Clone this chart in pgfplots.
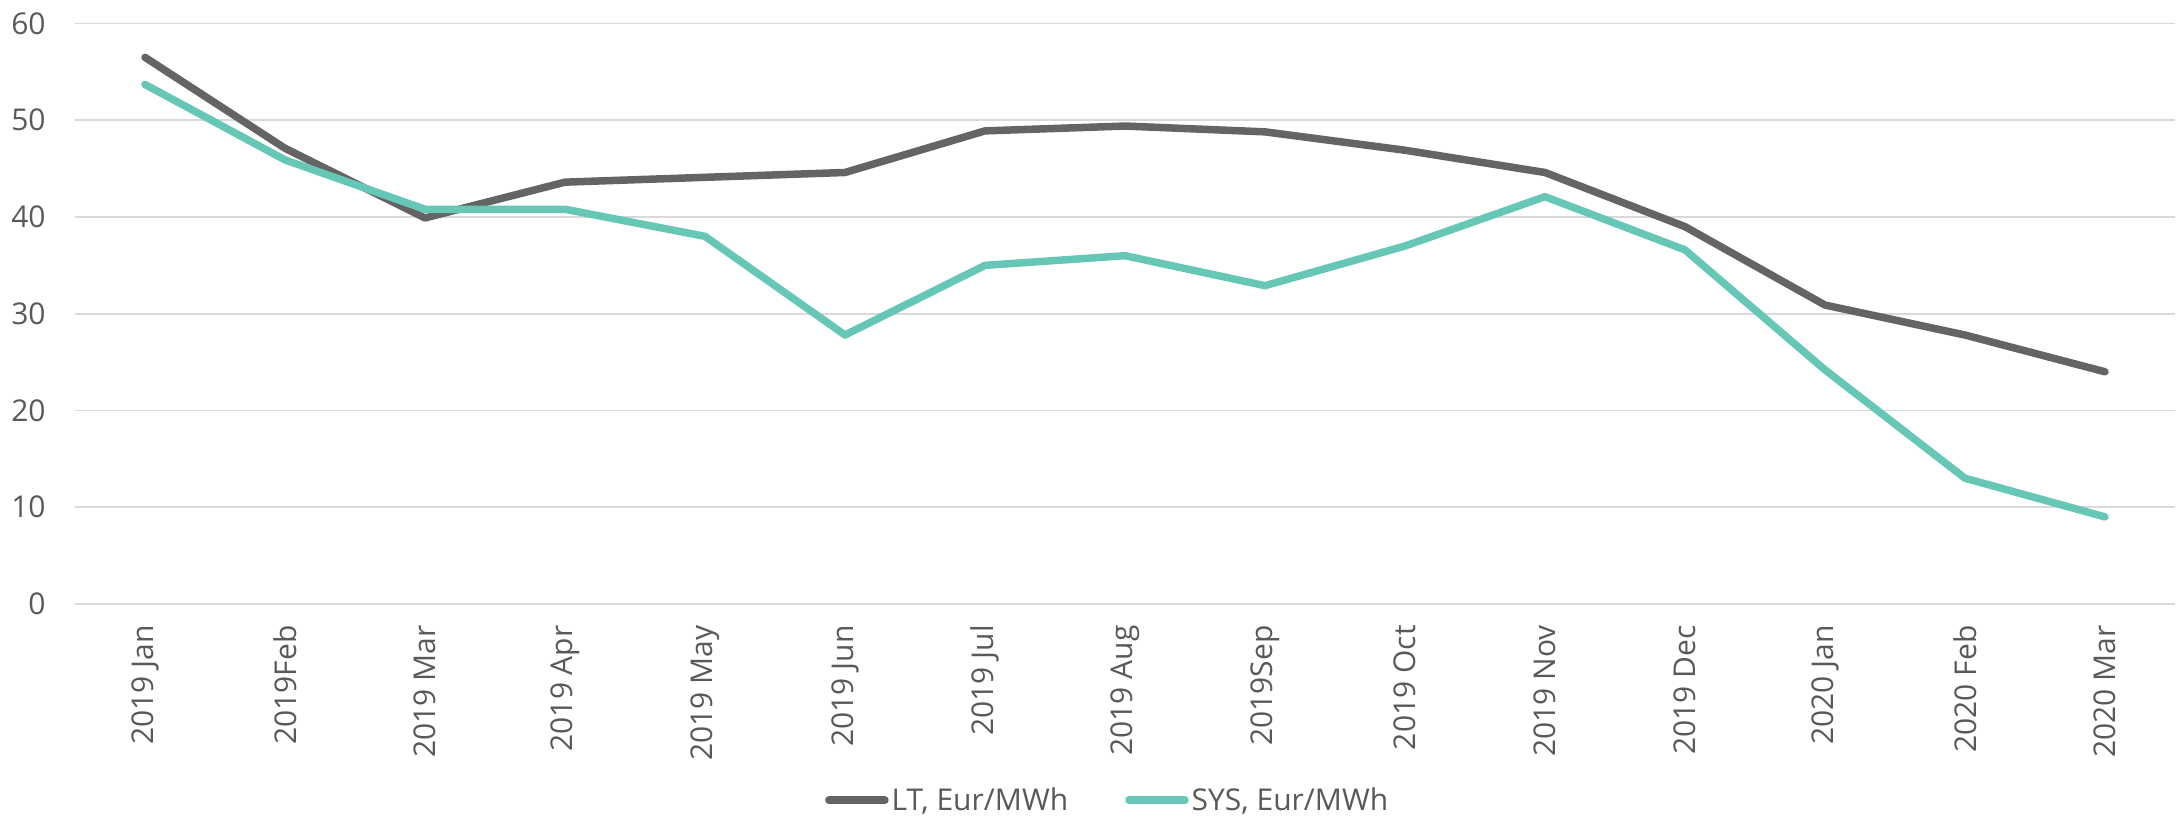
\documentclass[border=0pt]{standalone}
\usepackage{fontspec}
\setmainfont{Open Sans}
\usepackage{pgfplots}
\pgfplotsset{compat=1.18}
\definecolor{ltgray}{HTML}{646464}
\definecolor{systeal}{HTML}{66C7B7}
\definecolor{txt}{HTML}{595959}
\definecolor{gridc}{HTML}{D9D9D9}
\begin{document}
\begin{tikzpicture}
\useasboundingbox (-37.5pt,-106.5pt) rectangle (1050.5pt,302pt);
\begin{axis}[
  at={(0,0)}, anchor=south west,
  scale only axis, width=1050pt, height=290.25pt,
  xmin=-0.5, xmax=14.5, ymin=0, ymax=60,
  ytick={0,10,...,60},
  xtick={0,...,14},
  xticklabels={2019 Jan,2019Feb,2019 Mar,2019 Apr,2019 May,2019 Jun,2019 Jul,2019 Aug,2019Sep,2019 Oct,2019 Nov,2019 Dec,2020 Jan,2020 Feb,2020 Mar},
  /pgf/number format/assume math mode=true,
  xticklabel style={rotate=90, anchor=east, inner sep=0pt, xshift=-10.5pt, font=\fontsize{15}{18}\selectfont, text=txt},
  yticklabel style={anchor=east, inner sep=0pt, xshift=-14.5pt, font=\fontsize{15}{18}\selectfont, text=txt},
  ymajorgrids, grid style={draw=gridc, line width=0.8pt},
  axis line style={draw=none}, major tick length=0pt,
  legend style={at={(0.492,-0.338)}, anchor=center, draw=none, legend columns=2,
    font=\fontsize{15}{18}\selectfont, text=txt,
    /tikz/every even column/.append style={column sep=27pt},
    nodes={inner sep=1.5pt}},
  legend image code/.code={\draw[#1, line cap=round] (0pt,0pt) -- (28pt,0pt);},
]
\addplot[ltgray, line width=3.75pt, line join=round, line cap=round] coordinates {
(0,56.5) (1,47.1) (2,39.9) (3,43.6) (4,44.1) (5,44.6) (6,48.9) (7,49.4) (8,48.8) (9,46.9) (10,44.6) (11,39.0) (12,30.9) (13,27.8) (14,24.0)};
\addlegendentry{LT, Eur/MWh}
\addplot[systeal, line width=3.75pt, line join=round, line cap=round] coordinates {
(0,53.7) (1,45.9) (2,40.8) (3,40.8) (4,38.0) (5,27.8) (6,35.0) (7,36.0) (8,32.9) (9,37.0) (10,42.1) (11,36.6) (12,24.2) (13,13.0) (14,9.0)};
\addlegendentry{SYS, Eur/MWh}
\end{axis}
\end{tikzpicture}
\end{document}
